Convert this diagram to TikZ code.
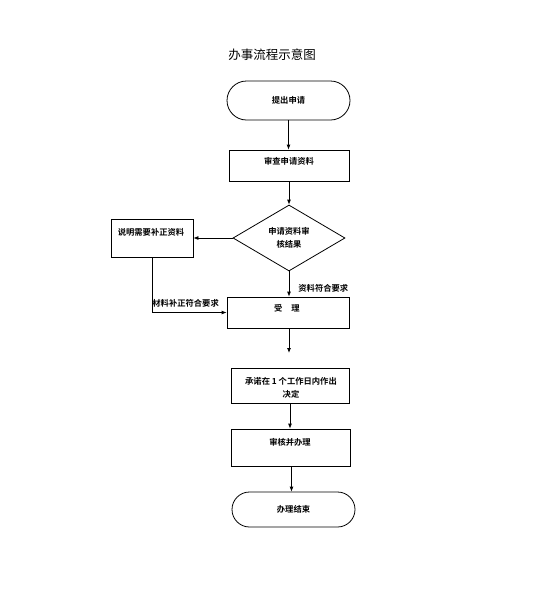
\documentclass[tikz,border=0pt]{standalone}
\usepackage{fontspec}
\newfontfamily\cjk[BoldFont={Noto Sans CJK SC Bold}]{Noto Sans CJK SC}
\usetikzlibrary{shapes.geometric, shapes.misc, positioning, arrows.meta}

\begin{document}
\begin{tikzpicture}[
    x=1pt, y=-1pt,
    line width=0.8pt,
    box/.style={rectangle, draw, inner sep=0pt},
    term/.style={rounded rectangle, draw, inner sep=0pt},
    decision/.style={diamond, draw, inner sep=0pt},
    txt/.style={font=\cjk\bfseries\fontsize{8.3}{13}\selectfont, align=center, inner sep=0pt},
    title/.style={font=\cjk\fontsize{12.5}{15}\selectfont},
    arr/.style={-{Latex[length=5pt,width=4pt]}}
]
    \useasboundingbox (0,0) rectangle (549,600);

    % Title
    \node[title] (biaoti) at (272,55) {办事流程示意图};

    % Flow boxes
    \node[term, txt, minimum width=123pt, minimum height=39pt] (tichu) at (288.5,100.5) {提出申请};
    \node[box, minimum width=120pt, minimum height=31pt] (shencha) at (289,165.5) {};
    \node[txt] (shenchat) at (289,161) {审查申请资料};
    \node[decision, txt, minimum width=112pt, minimum height=66pt] (jieguo) at (289,238) {申请资料审\\核结果};
    \node[box, minimum width=82pt, minimum height=38pt] (shuoming) at (152,238) {};
    \node[txt] (shuomingt) at (151,232) {说明需要补正资料};
    \node[box, minimum width=122pt, minimum height=31pt] (shouli) at (288,312.5) {};
    \node[txt] (shoulit) at (287,308) {受\hspace{9pt}理};
    \node[box, minimum width=118pt, minimum height=35pt] (chengnuo) at (290,385.5) {};
    \node[txt] (chengnuot) at (291,387.5) {承诺在 1 个工作日内作出\\决定};
    \node[box, minimum width=119pt, minimum height=37pt] (shenhe) at (290.5,447.5) {};
    \node[txt] (shenhet) at (290,442) {审核并办理};
    \node[term, txt, minimum width=123pt, minimum height=35pt] (banjie) at (293.5,509.5) {办理结束};

    % Connectors
    \coordinate (shouliend) at (289,353);
    \draw[arr] (tichu.south) -- (tichu.south |- shencha.north);
    \draw[arr] (shencha.south -| jieguo.north) -- (jieguo.north);
    \draw[arr] (jieguo.west) -- (shuoming.east);
    \draw[arr] (shuoming.south) |- (shouli.west);
    \draw[arr] (jieguo.south) -- (jieguo.south |- shouli.north);
    \draw[arr] (shouliend |- shouli.south) -- (shouliend);
    \draw[arr] (chengnuo.south) -- (chengnuo.south |- shenhe.north);
    \draw[arr] (291.5,0 |- shenhe.south) -- (291.5,0 |- banjie.north);

    % Labels
    \node[txt, anchor=west] (fuhe) at (298,288) {资料符合要求};
    \node[txt, anchor=west] (buzheng) at (152,303) {材料补正符合要求};
\end{tikzpicture}
\end{document}
